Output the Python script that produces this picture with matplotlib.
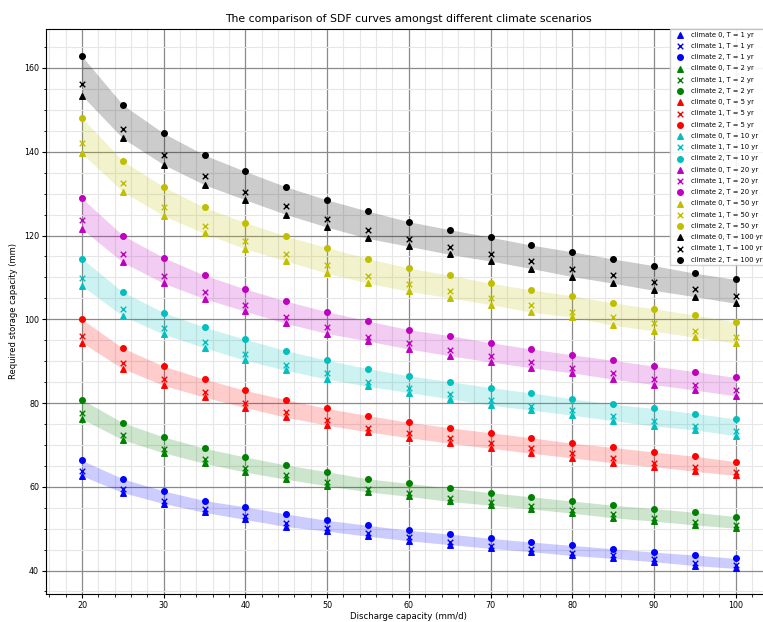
import numpy as np
import matplotlib
matplotlib.use("Agg")
import matplotlib.pyplot as plt

discharge = [20, 25, 30, 35, 40, 45, 50, 55, 60, 65, 70, 75, 80, 85, 90, 95, 100]
return_periods = [1, 2, 5, 10, 20, 50, 100]
colors = ['b', 'g', 'r', 'c', 'm', 'y', 'k']
markers = ['^', 'x', 'o']

# required storage (mm) per return period, climate 0 / 1 / 2
T1_c0 = [62.6, 58.6, 56.0, 53.9, 52.2, 50.5, 49.4, 48.2, 47.1, 46.2, 45.3, 44.5, 43.6, 42.9, 42.1, 41.2, 40.5]
T1_c1 = [63.7, 59.4, 56.7, 54.7, 53.1, 51.3, 50.1, 49.0, 47.9, 46.9, 45.9, 45.2, 44.2, 43.6, 42.8, 41.9, 41.3]
T1_c2 = [66.3, 61.9, 59.0, 56.7, 55.2, 53.5, 52.0, 50.8, 49.6, 48.7, 47.7, 46.8, 46.0, 45.2, 44.4, 43.7, 42.9]

T2_c0 = [76.2, 71.2, 68.1, 65.6, 63.5, 61.8, 60.2, 58.8, 57.7, 56.5, 55.6, 54.7, 53.7, 52.6, 51.8, 50.9, 50.1]
T2_c1 = [77.7, 72.4, 69.1, 66.7, 64.6, 62.8, 61.2, 59.5, 58.5, 57.3, 56.3, 55.3, 54.4, 53.4, 52.6, 51.7, 50.9]
T2_c2 = [80.8, 75.3, 71.9, 69.2, 67.1, 65.2, 63.6, 61.9, 60.8, 59.7, 58.6, 57.6, 56.6, 55.6, 54.8, 53.9, 52.9]

T5_c0 = [94.4, 88.2, 84.2, 81.4, 78.9, 76.6, 74.7, 73.1, 71.7, 70.4, 69.2, 68.0, 66.9, 65.7, 64.8, 63.7, 62.7]
T5_c1 = [96.0, 89.5, 85.7, 82.6, 80.1, 77.8, 76.0, 74.0, 72.9, 71.6, 70.4, 69.2, 68.1, 66.9, 65.8, 64.8, 63.6]
T5_c2 = [100.0, 93.1, 88.8, 85.7, 83.0, 80.8, 78.7, 77.0, 75.4, 74.1, 72.9, 71.7, 70.4, 69.4, 68.3, 67.3, 66.0]

T10_c0 = [108.0, 100.8, 96.4, 93.2, 90.2, 87.8, 85.7, 84.0, 82.5, 81.0, 79.5, 78.3, 77.1, 75.8, 74.5, 73.6, 72.2]
T10_c1 = [109.9, 102.4, 97.9, 94.5, 91.7, 89.2, 87.1, 85.0, 83.7, 82.1, 80.7, 79.4, 78.3, 77.0, 75.8, 74.5, 73.3]
T10_c2 = [114.5, 106.5, 101.6, 98.1, 95.2, 92.5, 90.2, 88.2, 86.5, 85.1, 83.7, 82.4, 81.0, 79.7, 78.7, 77.5, 76.2]

T20_c0 = [121.6, 113.6, 108.6, 104.9, 101.9, 99.0, 96.6, 94.8, 92.9, 91.3, 89.8, 88.4, 87.2, 85.7, 84.4, 83.1, 81.7]
T20_c1 = [123.7, 115.5, 110.3, 106.5, 103.5, 100.5, 98.2, 95.8, 94.4, 92.7, 91.3, 89.8, 88.4, 87.2, 85.7, 84.4, 83.1]
T20_c2 = [128.9, 120.0, 114.7, 110.5, 107.2, 104.3, 101.8, 99.6, 97.5, 96.1, 94.4, 92.9, 91.5, 90.2, 88.8, 87.5, 86.1]

T50_c0 = [139.6, 130.5, 124.7, 120.5, 116.8, 113.9, 111.0, 108.6, 106.7, 105.1, 103.5, 101.7, 100.5, 98.6, 97.2, 95.7, 94.3]
T50_c1 = [142.1, 132.5, 126.8, 122.2, 118.7, 115.7, 112.9, 110.3, 108.5, 106.7, 105.1, 103.5, 101.8, 100.5, 99.0, 97.3, 95.8]
T50_c2 = [148.1, 137.8, 131.6, 126.7, 123.1, 119.8, 117.1, 114.5, 112.2, 110.5, 108.6, 107.0, 105.6, 103.9, 102.5, 101.0, 99.3]

T100_c0 = [153.4, 143.2, 136.9, 132.1, 128.5, 125.0, 122.0, 119.3, 117.4, 115.5, 113.9, 112.1, 110.2, 108.6, 106.9, 105.4, 103.8]
T100_c1 = [156.1, 145.4, 139.2, 134.2, 130.3, 127.1, 123.9, 121.3, 119.2, 117.3, 115.5, 113.9, 112.1, 110.5, 108.8, 107.2, 105.6]
T100_c2 = [162.8, 151.2, 144.4, 139.2, 135.3, 131.6, 128.5, 125.8, 123.3, 121.4, 119.6, 117.7, 116.1, 114.4, 112.8, 111.0, 109.5]

storage = [
    [T1_c0, T1_c1, T1_c2],
    [T2_c0, T2_c1, T2_c2],
    [T5_c0, T5_c1, T5_c2],
    [T10_c0, T10_c1, T10_c2],
    [T20_c0, T20_c1, T20_c2],
    [T50_c0, T50_c1, T50_c2],
    [T100_c0, T100_c1, T100_c2],
]

fig = plt.figure(figsize=(7.63, 6.22), dpi=100)
ax = fig.add_axes([0.0603, 0.045, 0.951, 0.909])

for T, col, series in zip(return_periods, colors, storage):
    for i, (mk, vals) in enumerate(zip(markers, series)):
        ax.scatter(discharge, vals, color=col, marker=mk, s=16, lw=1.0,
                   label='climate %d, T = %d yr' % (i, T), zorder=3)
    ax.fill_between(discharge, series[0], series[2], color=col, alpha=0.2, lw=0)

ax.set_xlim(15.6, 104.4)
ax.set_ylim(34.4, 169.4)
ax.minorticks_on()
ax.grid(which='major', color='#8a8a8a', lw=0.9)
ax.grid(which='minor', color='#e6e6e6', lw=0.8)
ax.set_axisbelow(True)
ax.tick_params(labelsize=5.8, length=3, pad=2)
ax.tick_params(which='minor', length=1.8)

ax.set_title('The comparison of SDF curves amongst different climate scenarios', fontsize=7.8, pad=5)
ax.set_xlabel('Discharge capacity (mm/d)', fontsize=6.2, labelpad=1.5)
ax.set_ylabel('Required storage capacity (mm)', fontsize=6.0, labelpad=4)

ax.legend(loc='upper left', bbox_to_anchor=(670 / 763, 1 - 29 / 622),
          bbox_transform=fig.transFigure, fontsize=4.9, borderaxespad=0,
          labelspacing=0.77, borderpad=0.4, handlelength=2.0, handletextpad=0.7,
          framealpha=0.9, fancybox=False)

fig.savefig('out.png', dpi=100)
